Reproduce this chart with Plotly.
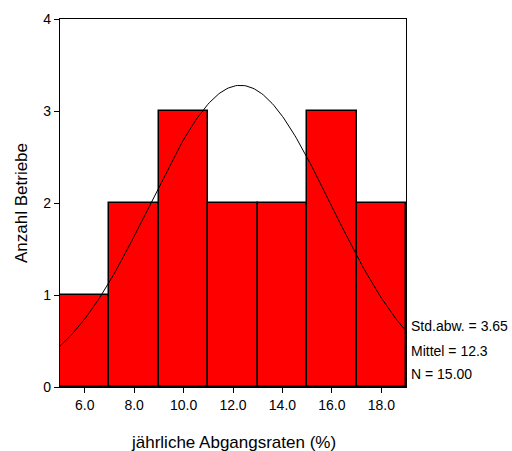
import numpy as np
import plotly.graph_objects as go

# Data
bin_centers = [6, 8, 10, 12, 14, 16, 18]
counts = [1, 2, 3, 2, 2, 3, 2]
bin_width = 2
mean_val = 12.3
std_val = 3.65
n_val = 15
x_ticks = [6, 8, 10, 12, 14, 16, 18]
y_ticks = [0, 1, 2, 3, 4]
stats_labels = ["Std.abw. = 3.65", "Mittel = 12.3", "N = 15.00"]

FONT = "Liberation Sans, Arial, sans-serif"

fig = go.Figure()
fig.add_trace(go.Bar(
    x=bin_centers, y=counts, width=bin_width,
    marker=dict(color="#ff0000", line=dict(color="black", width=1.5)),
    hoverinfo="skip", showlegend=False,
))

xs = np.linspace(5, 19, 200)
ys = n_val * bin_width / (std_val * np.sqrt(2 * np.pi)) * np.exp(-0.5 * ((xs - mean_val) / std_val) ** 2)
fig.add_trace(go.Scatter(x=xs, y=ys, mode="lines", line=dict(color="black", width=1),
                         hoverinfo="skip", showlegend=False))

fig.update_layout(
    width=512, height=451,
    margin=dict(l=60, r=106, t=19, b=64),
    paper_bgcolor="white", plot_bgcolor="white",
    font=dict(family=FONT, size=14, color="black"),
    bargap=0,
    xaxis=dict(range=[5, 19], tickvals=x_ticks, tickformat=".1f", automargin=False,
               showline=True, linecolor="black", linewidth=1.2, mirror=True,
               ticks="outside", ticklen=5, tickcolor="black", showgrid=False, zeroline=False,
               tickfont=dict(size=14)),
    yaxis=dict(range=[0, 4], tickvals=y_ticks, automargin=False,
               showline=True, linecolor="black", linewidth=1.2, mirror=True,
               ticks="outside", ticklen=5, tickcolor="black", showgrid=False, zeroline=False,
               tickfont=dict(size=14)),
)

# Axis titles
fig.add_annotation(text="jährliche Abgangsraten (%)", xref="paper", yref="paper", x=0.5, y=0,
                   xanchor="center", yanchor="middle", yshift=-55, showarrow=False,
                   font=dict(size=17))
fig.add_annotation(text="Anzahl Betriebe", xref="paper", yref="paper", x=0, y=0.5,
                   xanchor="center", yanchor="middle", xshift=-39, textangle=-90, showarrow=False,
                   font=dict(size=17))

for label, yp in zip(stats_labels, [0.165, 0.098, 0.035]):
    fig.add_annotation(text=label, xref="paper", yref="paper", x=1, y=yp,
                       xanchor="left", yanchor="middle", xshift=3, showarrow=False,
                       font=dict(size=14))

fig.write_html(
    "out.html",
    config={"displayModeBar": False},
    post_script="document.body.style.margin='0';document.body.style.overflow='hidden';",
)
